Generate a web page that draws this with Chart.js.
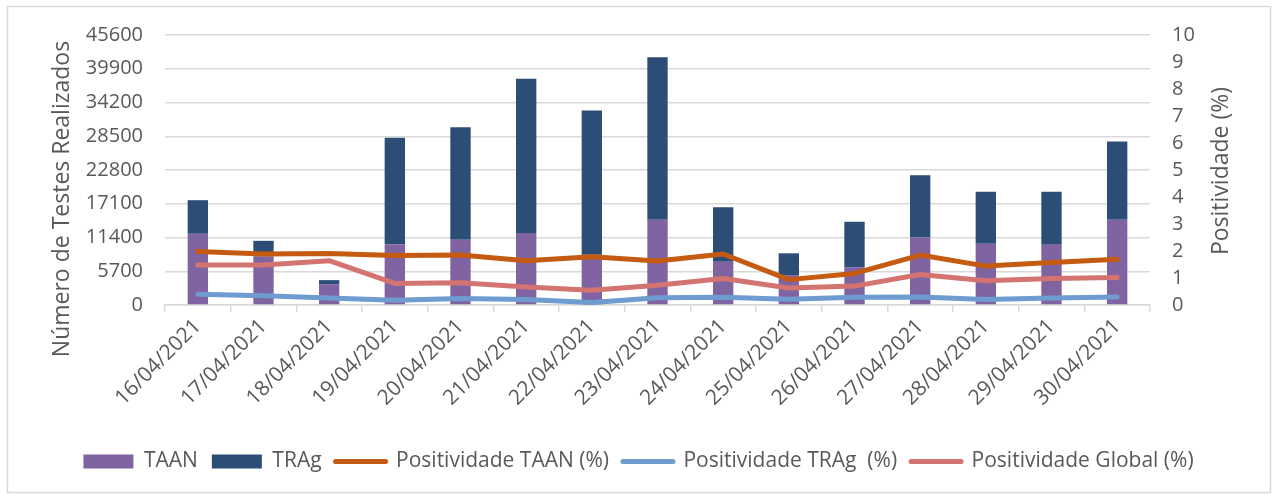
<!DOCTYPE html>
<html>
<head>
<meta charset="utf-8">
<script src="https://cdn.jsdelivr.net/npm/chart.js@4/dist/chart.umd.min.js"></script>
<style>
  html, body { margin: 0; padding: 0; background: #ffffff; }
  #wrap { position: relative; width: 1277px; height: 495px; }
</style>
</head>
<body>
<div id="wrap"><canvas id="c" width="1277" height="495"></canvas></div>
<script>
const categories = ["16/04/2021","17/04/2021","18/04/2021","19/04/2021","20/04/2021","21/04/2021","22/04/2021","23/04/2021","24/04/2021","25/04/2021","26/04/2021","27/04/2021","28/04/2021","29/04/2021","30/04/2021"];
const taan = [12030, 8200, 3520, 10260, 11000, 12140, 8500, 14410, 7320, 5050, 6350, 11400, 10330, 10160, 14410];
const trag = [5670, 2640, 680, 17990, 19000, 26090, 24340, 27450, 9180, 3680, 7720, 10500, 8780, 8950, 13210];
const posTAAN = [1.98, 1.89, 1.91, 1.83, 1.85, 1.64, 1.79, 1.63, 1.89, 0.94, 1.17, 1.85, 1.44, 1.57, 1.69];
const posTRAg = [0.40, 0.34, 0.26, 0.18, 0.24, 0.20, 0.09, 0.27, 0.29, 0.21, 0.29, 0.30, 0.20, 0.26, 0.30];
const posGlobal = [1.48, 1.48, 1.64, 0.80, 0.82, 0.67, 0.55, 0.73, 0.98, 0.63, 0.70, 1.13, 0.90, 0.98, 1.02];
const leftTicks = [0, 5700, 11400, 17100, 22800, 28500, 34200, 39900, 45600];
const rightTicks = [0, 1, 2, 3, 4, 5, 6, 7, 8, 9, 10];
const leftTitle = "Número de Testes Realizados";
const rightTitle = "Positividade (%)";

const FONT = "'Open Sans', 'Noto Sans', sans-serif";
const TXT = "#595959";
const GRID = "#d9d9d9";

const bgBorder = {
  id: 'bgBorder',
  beforeDraw(chart) {
    const ctx = chart.ctx;
    ctx.save();
    ctx.fillStyle = '#ffffff';
    ctx.fillRect(0, 0, chart.width, chart.height);
    ctx.strokeStyle = GRID;
    ctx.lineWidth = 1.5;
    ctx.strokeRect(7.5, 6.5, 1263, 486);
    ctx.restore();
  }
};

const axisTitles = {
  id: 'axisTitles',
  afterDraw(chart) {
    const ctx = chart.ctx;
    ctx.save();
    ctx.fillStyle = TXT;
    ctx.font = "23px " + FONT;
    ctx.textAlign = 'center';
    ctx.textBaseline = 'middle';
    ctx.translate(62, 199);
    ctx.rotate(-Math.PI / 2);
    ctx.fillText(leftTitle, 0, 0);
    ctx.restore();
    ctx.save();
    ctx.fillStyle = TXT;
    ctx.font = "23px " + FONT;
    ctx.textAlign = 'center';
    ctx.textBaseline = 'middle';
    ctx.translate(1221, 171);
    ctx.rotate(-Math.PI / 2);
    ctx.fillText(rightTitle, 0, 0);
    ctx.restore();
  }
};

const lineDs = (label, data, color) => ({
  type: 'line', label, data, yAxisID: 'y1', order: 1,
  borderColor: color, backgroundColor: color, borderWidth: 5,
  pointRadius: 0, pointHoverRadius: 0, tension: 0,
  borderJoinStyle: 'round', borderCapStyle: 'round', fill: false
});

new Chart(document.getElementById('c'), {
  data: {
    labels: categories,
    datasets: [
      { type: 'bar', label: 'TAAN', data: taan, backgroundColor: '#8064A2', yAxisID: 'y', order: 2,
        categoryPercentage: 1, barPercentage: 0.31 },
      { type: 'bar', label: 'TRAg', data: trag, backgroundColor: '#2C4D75', yAxisID: 'y', order: 2,
        categoryPercentage: 1, barPercentage: 0.31 },
      lineDs('Positividade TAAN (%)', posTAAN, '#C55A11'),
      lineDs('Positividade TRAg  (%)', posTRAg, '#6E9BD0'),
      lineDs('Positividade Global (%)', posGlobal, '#D37470')
    ]
  },
  options: {
    responsive: false,
    animation: false,
    events: [],
    layout: { padding: { top: 35, bottom: 13, left: 0, right: 0 } },
    plugins: {
      tooltip: { enabled: false },
      legend: {
        position: 'bottom',
        labels: {
          usePointStyle: true,
          pointStyleWidth: 50,
          boxHeight: 14,
          padding: 14,
          color: TXT,
          font: { family: FONT, size: 21 },
          generateLabels(chart) {
            return chart.data.datasets.map((ds, i) => {
              const isLine = ds.type === 'line';
              return {
                text: ds.label,
                fillStyle: ds.backgroundColor,
                strokeStyle: isLine ? ds.borderColor : ds.backgroundColor,
                lineWidth: isLine ? 5 : 0,
                lineCap: 'round',
                pointStyle: isLine ? 'line' : 'rect',
                fontColor: TXT,
                hidden: false,
                datasetIndex: i
              };
            });
          }
        }
      }
    },
    scales: {
      x: {
        stacked: true,
        offset: true,
        grid: { display: true, drawOnChartArea: false, drawTicks: true, tickLength: 7, color: GRID, lineWidth: 1.5, offset: true },
        border: { display: true, color: GRID, width: 1.5 },
        ticks: { color: TXT, font: { family: FONT, size: 21 }, minRotation: 45, maxRotation: 45, autoSkip: false, padding: 2 },
        afterFit(scale) { scale.height = 132; }
      },
      y: {
        type: 'linear', position: 'left', stacked: true,
        min: 0, max: 45600,
        afterBuildTicks(scale) { scale.ticks = leftTicks.map(v => ({ value: v })); },
        grid: { color: GRID, lineWidth: 1.5, drawTicks: false },
        border: { display: false },
        ticks: { color: TXT, font: { family: FONT, size: 20 }, padding: 22, autoSkip: false, callback: v => String(v) },
        afterFit(scale) { scale.width = 165; }
      },
      y1: {
        type: 'linear', position: 'right', stacked: false,
        min: 0, max: 10,
        afterBuildTicks(scale) { scale.ticks = rightTicks.map(v => ({ value: v })); },
        grid: { display: false, drawTicks: false },
        border: { display: false },
        ticks: { color: TXT, font: { family: FONT, size: 20 }, padding: 22, autoSkip: false, callback: v => String(v) },
        afterFit(scale) { scale.width = 127; }
      }
    }
  },
  plugins: [bgBorder, axisTitles]
});
</script>
</body>
</html>
